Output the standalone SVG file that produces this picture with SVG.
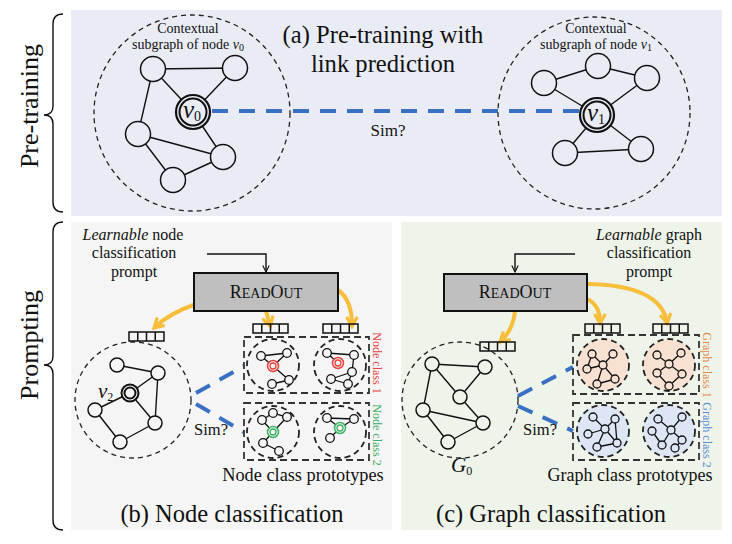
<svg xmlns="http://www.w3.org/2000/svg" width="732" height="544" viewBox="0 0 732 544">
<defs>
<style>
text{font-family:"Liberation Serif","Times New Roman",serif;fill:#111}
.n{stroke:#111;stroke-width:1.5}
.e{stroke:#111;stroke-width:1.4;fill:none}
.dc{fill:none;stroke:#222;stroke-width:1.3;stroke-dasharray:5 4}
.pc{stroke:#222;stroke-width:1.8;stroke-dasharray:6 4}
.pr{fill:none;stroke:#333;stroke-width:1.8;stroke-dasharray:7 4}
.blue{stroke:#3a70c2;stroke-width:4;stroke-dasharray:16 11;fill:none}
.or{stroke:#f6be3a;stroke-width:4;fill:none;marker-end:url(#oa)}
.vec{fill:none;stroke:#111;stroke-width:1.5}
.mn{stroke:#111;stroke-width:1.3}
.me{stroke:#111;stroke-width:1.3;fill:none}
.box{fill:#bfbfbf;stroke:#111;stroke-width:2}
.brace{fill:none;stroke:#111;stroke-width:1.4}
.vl{font-size:12px}
</style>
<marker id="oa" viewBox="0 0 10 10" refX="7" refY="5" markerWidth="3.4" markerHeight="3.4" orient="auto">
<path d="M1,1 L8,5 L1,9" fill="none" stroke="#f6be3a" stroke-width="2.4"/>
</marker>
<marker id="ba" viewBox="0 0 10 10" refX="9" refY="5" markerWidth="8" markerHeight="8" markerUnits="userSpaceOnUse" orient="auto">
<path d="M1,1 L9,5 L1,9" fill="none" stroke="#111" stroke-width="1.4"/>
</marker>
<g id="vec4"><rect class="vec" x="0" y="0" width="35" height="9"/><path class="vec" d="M8.75,0V9M17.5,0V9M26.25,0V9"/></g>
</defs>

<!-- panels -->
<rect x="71" y="10" width="651" height="206" fill="#e9ecf5"/>
<rect x="71" y="222" width="321" height="308" fill="#f5f5f5"/>
<rect x="401" y="222" width="321" height="308" fill="#eef4ea"/>

<!-- side labels and braces -->
<g id="side-pretraining">
<path class="brace" d="M63,14 Q53,14 53,24 L53,106 Q53,115 44,115 Q53,115 53,124 L53,202 Q53,212 63,212"/>
<text transform="translate(38,106) rotate(-90)" text-anchor="middle" font-size="26">Pre-training</text>
</g>
<g id="side-prompting">
<path class="brace" d="M63,222 Q53,222 53,232 L53,356 Q53,365 44,365 Q53,365 53,374 L53,520 Q53,530 63,530"/>
<text transform="translate(38,345) rotate(-90)" text-anchor="middle" font-size="26">Prompting</text>
</g>

<!-- top panel -->
<g id="title-a">
<text x="383" y="43" text-anchor="middle" font-size="24.6">(a) Pre-training with</text>
<text x="383" y="72" text-anchor="middle" font-size="24.6">link prediction</text>
</g>

<g id="connectors">
<line class="blue" x1="212" y1="111" x2="580" y2="111"/>
<line class="blue" x1="196" y1="393" x2="244" y2="366" stroke-dasharray="12 8"/>
<line class="blue" x1="196" y1="404" x2="244" y2="432" stroke-dasharray="12 8"/>
<line class="blue" x1="518" y1="396" x2="573" y2="367" stroke-dasharray="12 8"/>
<line class="blue" x1="518" y1="406" x2="573" y2="431" stroke-dasharray="12 8"/>
<path class="or" d="M196,304 Q170,313 155,327"/>
<path class="or" d="M266,311 Q268,318 270,325"/>
<path class="or" d="M338,290 Q352,300 352,325"/>
<path class="or" d="M515,311 Q513,330 501,341"/>
<path class="or" d="M587,299 Q600,305 600,322"/>
<path class="or" d="M587,284 Q660,285 667,322"/>
<path d="M207,254 H266 V272" fill="none" stroke="#111" stroke-width="1.4" marker-end="url(#ba)"/>
<path d="M575,254 H515 V272" fill="none" stroke="#111" stroke-width="1.4" marker-end="url(#ba)"/>
</g>

<text x="388" y="136" text-anchor="middle" font-size="17">Sim?</text>

<g id="subgraph-v0" fill="#e9ecf5">
<circle class="dc" cx="192" cy="113" r="98"/>
<text x="188" y="33" text-anchor="middle" font-size="14">Contextual</text>
<text x="188" y="49" text-anchor="middle" font-size="14">subgraph of node <tspan font-style="italic">v</tspan><tspan font-size="10" dy="2">0</tspan></text>
<path class="e" d="M153,69L235,68M153,69L193,112M235,68L193,112M153,69L138,134M193,112L223,157M138,134L223,157M138,134L173,180M173,180L223,157"/>
<circle class="n" cx="153" cy="69" r="12.5"/>
<circle class="n" cx="235" cy="68" r="12.5"/>
<circle class="n" cx="138" cy="134" r="12.5"/>
<circle class="n" cx="223" cy="157" r="12.5"/>
<circle class="n" cx="173" cy="180" r="12.5"/>
<circle cx="193" cy="112" r="17" stroke="#111" stroke-width="2.2"/>
<circle cx="193" cy="112" r="13.5" fill="none" stroke="#111" stroke-width="2"/>
<text x="183" y="118" font-size="25" font-style="italic">v<tspan font-size="14" font-style="normal" dy="3">0</tspan></text>
</g>

<g id="subgraph-v1" fill="#e9ecf5">
<circle class="dc" cx="594" cy="113" r="96"/>
<text x="596" y="33" text-anchor="middle" font-size="14">Contextual</text>
<text x="596" y="49" text-anchor="middle" font-size="14">subgraph of node <tspan font-style="italic">v</tspan><tspan font-size="10" dy="2">1</tspan></text>
<path class="e" d="M544,83L598,66M598,66L647,78M544,83L597,115M647,78L597,115M597,115L565,153M597,115L641,149M565,153L641,149"/>
<circle class="n" cx="544" cy="83" r="12.5"/>
<circle class="n" cx="598" cy="66" r="12.5"/>
<circle class="n" cx="647" cy="78" r="12.5"/>
<circle class="n" cx="565" cy="153" r="12.5"/>
<circle class="n" cx="641" cy="149" r="12.5"/>
<circle cx="597" cy="115" r="17" stroke="#111" stroke-width="2.2"/>
<circle cx="597" cy="115" r="13.5" fill="none" stroke="#111" stroke-width="2"/>
<text x="587" y="121" font-size="25" font-style="italic">v<tspan font-size="14" font-style="normal" dy="3">1</tspan></text>
</g>

<!-- bottom-left panel -->
<g id="prompt-node">
<text x="133" y="240" text-anchor="middle" font-size="16"><tspan font-style="italic">Learnable</tspan> node</text>
<text x="134" y="258" text-anchor="middle" font-size="16">classification</text>
<text x="134" y="277" text-anchor="middle" font-size="16">prompt</text>
</g>
<g id="readout-node">
<rect class="box" x="194" y="273" width="144" height="38"/>
<text x="266" y="298" text-anchor="middle" font-size="18">R<tspan font-size="14">EAD</tspan>O<tspan font-size="14">UT</tspan></text>
</g>

<g id="graph-v2" fill="#f5f5f5">
<circle class="dc" cx="133" cy="400" r="58"/>
<use href="#vec4" x="129" y="332"/>
<path class="e" d="M117,365L158,373M158,373L130,393M158,373L155,423M130,393L95,410M130,393L155,423M95,410L120,442M120,442L155,423"/>
<circle class="n" cx="117" cy="365" r="7"/>
<circle class="n" cx="158" cy="373" r="7"/>
<circle class="n" cx="95" cy="410" r="7"/>
<circle class="n" cx="155" cy="423" r="7"/>
<circle class="n" cx="120" cy="442" r="7"/>
<circle cx="130" cy="393" r="8.5" stroke="#111" stroke-width="2"/>
<circle cx="130" cy="393" r="5.5" fill="none" stroke="#111" stroke-width="2"/>
<text x="98" y="398" font-size="21" font-style="italic">v<tspan font-size="12" font-style="normal" dy="3">2</tspan></text>
</g>
<text x="211" y="435" text-anchor="middle" font-size="16.5">Sim?</text>

<g id="node-class-1" fill="#f5f5f5">
<use href="#vec4" x="253" y="324"/>
<use href="#vec4" x="323" y="324"/>
<rect class="pr" x="244" y="337" width="125" height="56"/>
<circle class="pc" cx="273" cy="365" r="26"/>
<circle class="pc" cx="340" cy="365" r="26"/>
<path class="me" d="M261,356L287,353M261,356L273,366M287,353L273,366M273,366L289,380M289,380L272,384"/>
<circle class="mn" cx="261" cy="356" r="4.3"/>
<circle class="mn" cx="287" cy="353" r="4.3"/>
<circle class="mn" cx="289" cy="380" r="4.3"/>
<circle class="mn" cx="272" cy="384" r="4.3"/>
<circle cx="273" cy="366" r="5.5" stroke="#e8403c" stroke-width="1.5"/>
<circle cx="273" cy="366" r="3" fill="none" stroke="#e8403c" stroke-width="1.3"/>
<path class="me" d="M327,353L354,355M327,353L338,363M354,355L352,372M352,372L331,379M352,372L348,384M331,379L348,384"/>
<circle class="mn" cx="327" cy="353" r="4.3"/>
<circle class="mn" cx="354" cy="355" r="4.3"/>
<circle class="mn" cx="352" cy="372" r="4.3"/>
<circle class="mn" cx="331" cy="379" r="4.3"/>
<circle class="mn" cx="348" cy="384" r="4.3"/>
<circle cx="338" cy="363" r="5.5" stroke="#e8403c" stroke-width="1.5"/>
<circle cx="338" cy="363" r="3" fill="none" stroke="#e8403c" stroke-width="1.3"/>
<text class="vl" transform="translate(373,363) rotate(90)" text-anchor="middle" style="fill:#e8433f">Node class 1</text>
</g>

<g id="node-class-2" fill="#f5f5f5">
<rect class="pr" x="244" y="403" width="125" height="57"/>
<circle class="pc" cx="273" cy="432" r="26"/>
<circle class="pc" cx="340" cy="432" r="26"/>
<path class="me" d="M262,420L273,413M273,413L287,417M262,420L273,432M287,417L273,432M273,432L263,443M263,443L279,451"/>
<circle class="mn" cx="262" cy="420" r="4.3"/>
<circle class="mn" cx="273" cy="413" r="4.3"/>
<circle class="mn" cx="287" cy="417" r="4.3"/>
<circle class="mn" cx="263" cy="443" r="4.3"/>
<circle class="mn" cx="279" cy="451" r="4.3"/>
<circle cx="273" cy="432" r="5.5" stroke="#3cb064" stroke-width="1.5"/>
<circle cx="273" cy="432" r="3" fill="none" stroke="#3cb064" stroke-width="1.3"/>
<path class="me" d="M327,418L354,419M327,418L340,428M354,419L340,428M340,428L330,438"/>
<circle class="mn" cx="327" cy="418" r="4.3"/>
<circle class="mn" cx="354" cy="419" r="4.3"/>
<circle class="mn" cx="330" cy="438" r="4.3"/>
<circle cx="340" cy="428" r="5.5" stroke="#3cb064" stroke-width="1.5"/>
<circle cx="340" cy="428" r="3" fill="none" stroke="#3cb064" stroke-width="1.3"/>
<text class="vl" transform="translate(373,435) rotate(90)" text-anchor="middle" style="fill:#3cb064">Node class 2</text>
</g>
<text x="303" y="481" text-anchor="middle" font-size="18.3">Node class prototypes</text>
<text x="232" y="522" text-anchor="middle" font-size="24.5">(b) Node classification</text>

<!-- bottom-right panel -->
<g id="prompt-graph">
<text x="649" y="240" text-anchor="middle" font-size="16"><tspan font-style="italic">Learnable</tspan> graph</text>
<text x="649" y="258" text-anchor="middle" font-size="16">classification</text>
<text x="649" y="277" text-anchor="middle" font-size="16">prompt</text>
</g>
<g id="readout-graph">
<rect class="box" x="444" y="274" width="143" height="37"/>
<text x="515" y="298" text-anchor="middle" font-size="18">R<tspan font-size="14">EAD</tspan>O<tspan font-size="14">UT</tspan></text>
</g>

<g id="graph-G0" fill="#eef4ea">
<circle class="dc" cx="460" cy="400" r="58"/>
<use href="#vec4" x="480" y="342"/>
<path class="e" d="M432,364L485,367M432,364L460,397M485,367L460,397M432,364L423,410M460,397L483,423M423,410L483,423M423,410L448,442M448,442L483,423"/>
<circle class="n" cx="432" cy="364" r="7"/>
<circle class="n" cx="485" cy="367" r="7"/>
<circle class="n" cx="460" cy="397" r="7"/>
<circle class="n" cx="423" cy="410" r="7"/>
<circle class="n" cx="483" cy="423" r="7"/>
<circle class="n" cx="448" cy="442" r="7"/>
<text x="451" y="472" font-size="21" font-style="italic">G<tspan font-size="12" font-style="normal" dy="3">0</tspan></text>
</g>
<text x="540" y="435" text-anchor="middle" font-size="16.5">Sim?</text>

<g id="graph-class-1" fill="#f9e1d1">
<use href="#vec4" x="585" y="324"/>
<use href="#vec4" x="653" y="324"/>
<rect class="pr" x="573" y="335" width="126" height="59"/>
<circle class="pc" cx="603" cy="365" r="26"/>
<circle class="pc" cx="669" cy="365" r="26"/>
<path class="me" d="M592,354L587,369M592,354L603,365M603,365L613,354M603,365L587,369M603,365L597,384M597,384L615,379M603,365L615,379"/>
<circle class="mn" cx="592" cy="354" r="4"/>
<circle class="mn" cx="613" cy="354" r="4"/>
<circle class="mn" cx="603" cy="365" r="4"/>
<circle class="mn" cx="587" cy="369" r="4"/>
<circle class="mn" cx="615" cy="379" r="4"/>
<circle class="mn" cx="597" cy="384" r="4"/>
<path class="me" d="M669,364L657,355M669,364L681,353M669,364L657,373M669,364L682,374M657,373L669,386M682,374L669,386"/>
<circle class="mn" cx="669" cy="364" r="4"/>
<circle class="mn" cx="657" cy="355" r="4"/>
<circle class="mn" cx="681" cy="353" r="4"/>
<circle class="mn" cx="657" cy="373" r="4"/>
<circle class="mn" cx="682" cy="374" r="4"/>
<circle class="mn" cx="669" cy="386" r="4"/>
<text class="vl" transform="translate(703,365) rotate(90)" text-anchor="middle" style="fill:#e2894a">Graph class 1</text>
</g>

<g id="graph-class-2" fill="#dde6f5">
<rect class="pr" x="573" y="403" width="126" height="57"/>
<circle class="pc" cx="603" cy="431" r="26"/>
<circle class="pc" cx="669" cy="431" r="26"/>
<path class="me" d="M605,429L593,417M605,429L615,419M605,429L588,434M605,429L597,447M605,429L617,443M615,419L617,443M597,447L617,443"/>
<circle class="mn" cx="605" cy="429" r="4"/>
<circle class="mn" cx="593" cy="417" r="4"/>
<circle class="mn" cx="615" cy="419" r="4"/>
<circle class="mn" cx="588" cy="434" r="4"/>
<circle class="mn" cx="617" cy="443" r="4"/>
<circle class="mn" cx="597" cy="447" r="4"/>
<path class="me" d="M671,430L658,419M671,430L682,417M671,430L682,440M671,430L662,445M652,431L662,445M682,440L675,448"/>
<circle class="mn" cx="671" cy="430" r="4"/>
<circle class="mn" cx="658" cy="419" r="4"/>
<circle class="mn" cx="682" cy="417" r="4"/>
<circle class="mn" cx="652" cy="431" r="4"/>
<circle class="mn" cx="682" cy="440" r="4"/>
<circle class="mn" cx="662" cy="445" r="4"/>
<circle class="mn" cx="675" cy="448" r="4"/>
<text class="vl" transform="translate(703,435) rotate(90)" text-anchor="middle" style="fill:#5a8ed4">Graph class 2</text>
</g>
<text x="630" y="481" text-anchor="middle" font-size="18">Graph class prototypes</text>
<text x="551" y="522" text-anchor="middle" font-size="24.5">(c) Graph classification</text>
</svg>
